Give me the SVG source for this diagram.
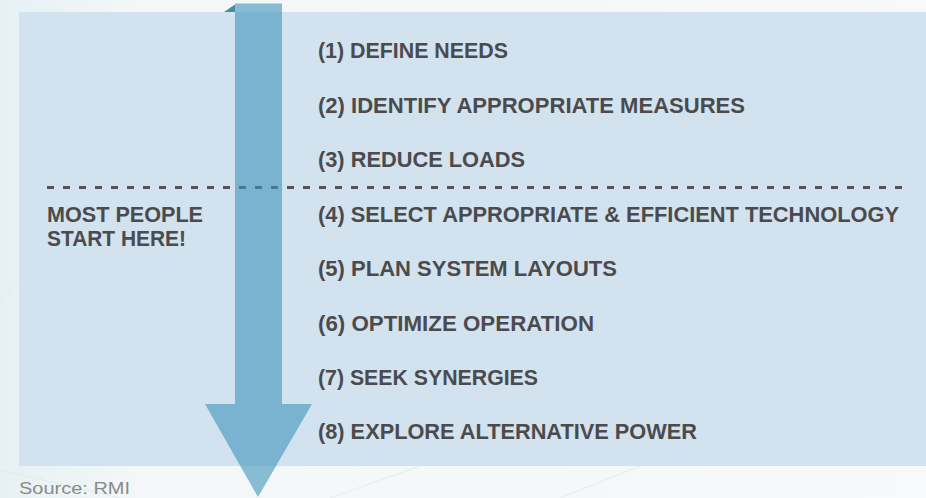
<svg xmlns="http://www.w3.org/2000/svg" width="926" height="498" viewBox="0 0 926 498">
<defs>
<linearGradient id="bg" x1="0" y1="0" x2="1" y2="0">
<stop offset="0" stop-color="#e6f1f4"/>
<stop offset="0.15" stop-color="#f3f7f8"/>
<stop offset="1" stop-color="#f7f9fa"/>
</linearGradient>
<style>
.step{font-family:"Liberation Sans",Arial,sans-serif;font-weight:bold;font-size:21.5px;fill:#4b4b4d;}
.src{font-family:"Liberation Sans",Arial,sans-serif;font-size:16px;fill:#8a8a8a;}
.arrow{fill:#3f95bb;fill-opacity:0.6;}
</style>
</defs>
<rect x="0" y="0" width="926" height="498" fill="url(#bg)"/>
<g stroke="#dfe6e8" stroke-width="1" fill="none" opacity="0.7">
<path d="M0 470 L120 498"/>
<path d="M330 498 L420 466"/>
<path d="M560 498 L640 466"/>
<path d="M0 300 L19 280"/>
</g>
<rect id="panel" x="19" y="12" width="907" height="454" fill="#d2e2ef"/>
<g id="connectors">
<line x1="47" y1="187.5" x2="906" y2="187.5" stroke="#555557" stroke-width="3" stroke-dasharray="7 9"/>
</g>
<g id="arrow">
<path class="arrow" d="M235 3.5 L282 3.5 L282 404 L312 404 L258 497 L205 404 L235 404 Z"/>
<path d="M224 12 L235 4.5 L235 12 Z" fill="#4a8bad"/>
</g>
<g id="left-note">
<text class="step" x="47" y="221.5" textLength="156" lengthAdjust="spacingAndGlyphs">MOST PEOPLE</text>
<text class="step" x="47" y="245.5" textLength="139" lengthAdjust="spacingAndGlyphs">START HERE!</text>
</g>
<g id="step1"><text class="step" x="318" y="58" textLength="190" lengthAdjust="spacingAndGlyphs">(1) DEFINE NEEDS</text></g>
<g id="step2"><text class="step" x="318" y="112.5" textLength="427" lengthAdjust="spacingAndGlyphs">(2) IDENTIFY APPROPRIATE MEASURES</text></g>
<g id="step3"><text class="step" x="318" y="167" textLength="207" lengthAdjust="spacingAndGlyphs">(3) REDUCE LOADS</text></g>
<g id="step4"><text class="step" x="318" y="221.5" textLength="581" lengthAdjust="spacingAndGlyphs">(4) SELECT APPROPRIATE &amp; EFFICIENT TECHNOLOGY</text></g>
<g id="step5"><text class="step" x="318" y="276" textLength="299" lengthAdjust="spacingAndGlyphs">(5) PLAN SYSTEM LAYOUTS</text></g>
<g id="step6"><text class="step" x="318" y="330.5" textLength="276" lengthAdjust="spacingAndGlyphs">(6) OPTIMIZE OPERATION</text></g>
<g id="step7"><text class="step" x="318" y="385" textLength="220" lengthAdjust="spacingAndGlyphs">(7) SEEK SYNERGIES</text></g>
<g id="step8"><text class="step" x="318" y="439" textLength="379" lengthAdjust="spacingAndGlyphs">(8) EXPLORE ALTERNATIVE POWER</text></g>
<text class="src" x="19" y="494" textLength="111" lengthAdjust="spacingAndGlyphs">Source: RMI</text>
</svg>
